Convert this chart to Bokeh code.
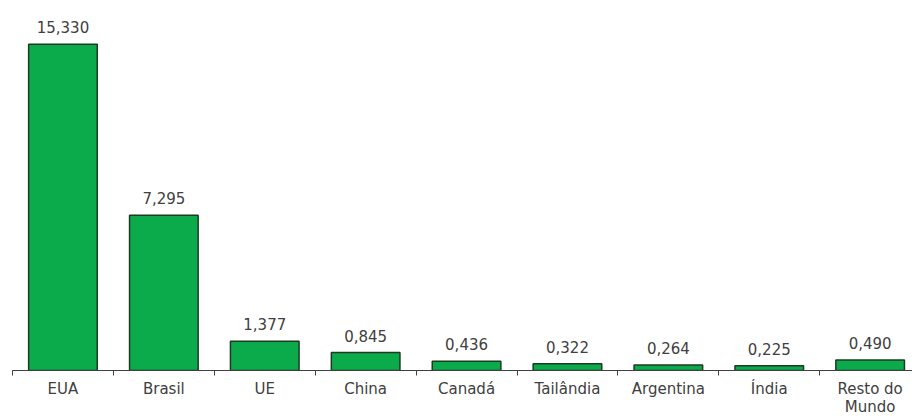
from bokeh.plotting import figure
from bokeh.models import ColumnDataSource, Range1d, FixedTicker
from bokeh.core.properties import value
from bokeh.embed import file_html
from bokeh.resources import INLINE

categories = ["EUA", "Brasil", "UE", "China", "Canadá", "Tailândia", "Argentina", "Índia", "Resto do\nMundo"]
values = [15.330, 7.295, 1.377, 0.845, 0.436, 0.322, 0.264, 0.225, 0.490]

n = len(categories)
centers = [i + 0.5 for i in range(n)]
labels = [f"{v:.3f}".replace(".", ",") for v in values]

src = ColumnDataSource(dict(x=centers, top=values, label=labels))

W, H = 912, 418
border_left, border_top, border_bottom = 12, 8, 46
frame_w = W - border_left
frame_h = H - border_top - border_bottom
px_per_unit = 21.4
px_per_cat = 100.9

p = figure(width=W, height=H, output_backend="svg", toolbar_location=None,
           x_range=Range1d(0, frame_w / px_per_cat), y_range=Range1d(0, frame_h / px_per_unit),
           min_border_left=border_left, min_border_right=0, min_border_top=border_top,
           min_border_bottom=border_bottom, background_fill_color="white",
           border_fill_color="white", outline_line_color=None)

p.vbar(x="x", top="top", width=0.68, bottom=0, source=src,
       fill_color="#0BAA4B", line_color="#1E3A22", line_width=1.5)

p.text(x="x", y="top", text="label", source=src, text_align="center",
       text_baseline="bottom", y_offset=-11, text_font=value("DejaVu Sans"),
       text_font_size="15px", text_color="#404040")

p.xgrid.visible = False
p.ygrid.visible = False
p.yaxis.visible = False

ax = p.xaxis[0]
ax.ticker = FixedTicker(ticks=centers, minor_ticks=list(range(n)))
ax.major_label_overrides = {c: lab for c, lab in zip(centers, categories)}
ax.major_tick_line_color = None
ax.major_tick_out = 0
ax.major_tick_in = 0
ax.minor_tick_out = 5
ax.minor_tick_in = 0
ax.minor_tick_line_color = "#404040"
ax.axis_line_color = "#404040"
ax.axis_line_width = 1.2
ax.major_label_standoff = 4
ax.major_label_text_font = "DejaVu Sans"
ax.major_label_text_font_size = "15px"
ax.major_label_text_line_height = 1.0
ax.major_label_text_color = "#404040"

open("out.html", "w").write(file_html(p, INLINE))
